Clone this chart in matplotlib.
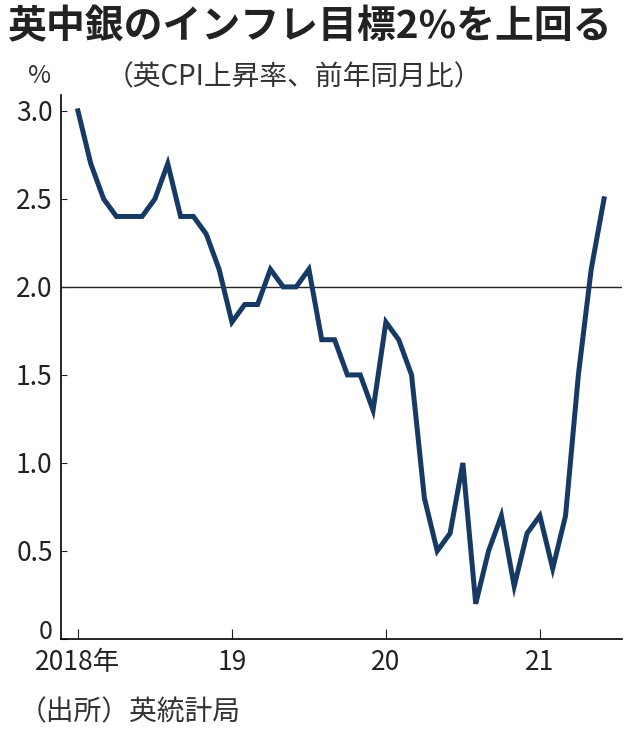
import matplotlib.pyplot as plt
import matplotlib.transforms as mtransforms

plt.rcParams['font.family'] = ['Noto Sans CJK JP', 'DejaVu Sans']

# UK CPI, y/y %, Jan 2018 - Jun 2021
cpi = [3.0, 2.7, 2.5, 2.4, 2.4, 2.4, 2.5, 2.7, 2.4, 2.4, 2.3, 2.1,
       1.8, 1.9, 1.9, 2.1, 2.0, 2.0, 2.1, 1.7, 1.7, 1.5, 1.5, 1.3,
       1.8, 1.7, 1.5, 0.8, 0.5, 0.6, 1.0, 0.2, 0.5, 0.7, 0.3, 0.6,
       0.7, 0.4, 0.7, 1.5, 2.1, 2.5]
year_ticks = [0, 12, 24, 36]
year_labels = ["2018年", "19", "20", "21"]
y_ticks = [0, 0.5, 1.0, 1.5, 2.0, 2.5, 3.0]
y_labels = ["0", "0.5", "1.0", "1.5", "2.0", "2.5", "3.0"]

fig = plt.figure(figsize=(6.38, 7.40), dpi=100)
ax = fig.add_axes([61 / 638, 1 - 639 / 740, (622 - 61) / 638, (639 - 95) / 740])

ax.axhline(2.0, color="#222222", linewidth=1.0, zorder=1)
ax.plot(range(len(cpi)), cpi, color="#173a64", linewidth=3.6,
        solid_joinstyle="miter", zorder=2)

ax.set_xlim(-1.32, 42.4)
ax.set_ylim(0, 3.09)
for s in ["top", "right"]:
    ax.spines[s].set_visible(False)
ax.spines["left"].set_linewidth(1.2)
ax.spines["bottom"].set_linewidth(1.2)

ax.set_xticks(year_ticks)
ax.set_xticklabels(year_labels, fontsize=19, color="#222222")
ax.tick_params(axis="x", direction="in", length=7, pad=7, color="#222222")
ax.set_yticks(y_ticks)
ax.set_yticklabels(y_labels, fontsize=19, color="#222222")
ax.tick_params(axis="y", direction="in", length=4, pad=6, color="#222222")
for lbl in ax.get_xticklabels() + ax.get_yticklabels():
    lbl.set_fontstretch("condensed")

# nudge the "0" label up so it does not collide with "2018年"
zero_lbl = ax.get_yticklabels()[0]
zero_lbl.set_verticalalignment("baseline")
zero_lbl.set_fontsize(18)

fig.text(0.012, 0.99, "英中銀のインフレ目標2%を上回る", fontsize=28, fontweight="bold",
         va="top", ha="left", color="#222222")
fig.text(0.165, 0.895, "（英CPI上昇率、前年同月比）", fontsize=20, va="center", ha="left",
         color="#333333")
fig.text(0.062, 0.897, "%", fontsize=18, va="center", ha="center", color="#333333")
fig.text(0.03, 0.038, "（出所）英統計局", fontsize=20, va="center", ha="left",
         color="#333333")

fig.savefig("out.png", dpi=100)
